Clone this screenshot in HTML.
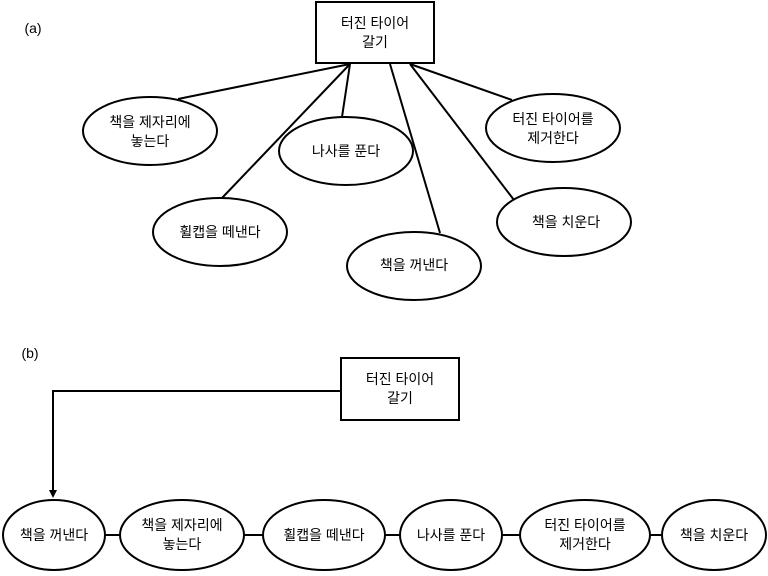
<!DOCTYPE html>
<html><head><meta charset="utf-8"><style>
body{margin:0;background:#fff;}
svg text{font-family:"Liberation Sans","Noto Sans CJK KR",sans-serif;font-size:14px;fill:#000;text-anchor:middle;}
</style></head><body>
<svg width="768" height="571" viewBox="0 0 768 571" xmlns="http://www.w3.org/2000/svg">
<g stroke="#000" stroke-width="2" fill="none">
<line x1="350" y1="64" x2="178" y2="99"/>
<line x1="350" y1="64" x2="222" y2="198"/>
<line x1="350" y1="64" x2="342" y2="117"/>
<line x1="390" y1="64" x2="440" y2="233"/>
<line x1="410" y1="64" x2="514" y2="200"/>
<line x1="410" y1="64" x2="512" y2="100"/>
<rect x="316" y="2" width="118" height="61" fill="#fff"/>
<ellipse cx="150" cy="131" rx="67" ry="34" fill="#fff"/>
<ellipse cx="346" cy="151" rx="67" ry="34" fill="#fff"/>
<ellipse cx="553" cy="128" rx="67" ry="34" fill="#fff"/>
<ellipse cx="220" cy="232" rx="67" ry="34" fill="#fff"/>
<ellipse cx="564" cy="222" rx="67" ry="34" fill="#fff"/>
<ellipse cx="414" cy="266" rx="67" ry="34" fill="#fff"/>
<polyline points="341,391 53,391 53,492"/>
<rect x="341" y="358" width="118" height="62" fill="#fff"/>
<line x1="100" y1="535" x2="670" y2="535"/>
<ellipse cx="54" cy="535" rx="51" ry="35" fill="#fff"/>
<ellipse cx="182" cy="535" rx="62" ry="35" fill="#fff"/>
<ellipse cx="324" cy="535" rx="61" ry="35" fill="#fff"/>
<ellipse cx="451" cy="535" rx="51" ry="35" fill="#fff"/>
<ellipse cx="585" cy="535" rx="65" ry="35" fill="#fff"/>
<ellipse cx="714" cy="535" rx="52" ry="35" fill="#fff"/>
</g>
<polygon points="49,490 57,490 53,498" fill="#000"/>
<text x="33" y="33">(a)</text>
<text x="30" y="358">(b)</text>
<text x="375" y="28">터진 타이어</text><text x="375" y="47">갈기</text>
<text x="150" y="127">책을 제자리에</text><text x="150" y="146">놓는다</text>
<text x="346" y="156">나사를 푼다</text>
<text x="553" y="124">터진 타이어를</text><text x="553" y="143">제거한다</text>
<text x="220" y="237">휠캡을 떼낸다</text>
<text x="566" y="227">책을 치운다</text>
<text x="414" y="270">책을 꺼낸다</text>
<text x="400" y="384">터진 타이어</text><text x="400" y="403">갈기</text>
<text x="54" y="540">책을 꺼낸다</text>
<text x="182" y="530">책을 제자리에</text><text x="182" y="549">놓는다</text>
<text x="324" y="540">휠캡을 떼낸다</text>
<text x="451" y="540">나사를 푼다</text>
<text x="585" y="530">터진 타이어를</text><text x="585" y="549">제거한다</text>
<text x="714" y="540">책을 치운다</text>
</svg>
</body></html>
